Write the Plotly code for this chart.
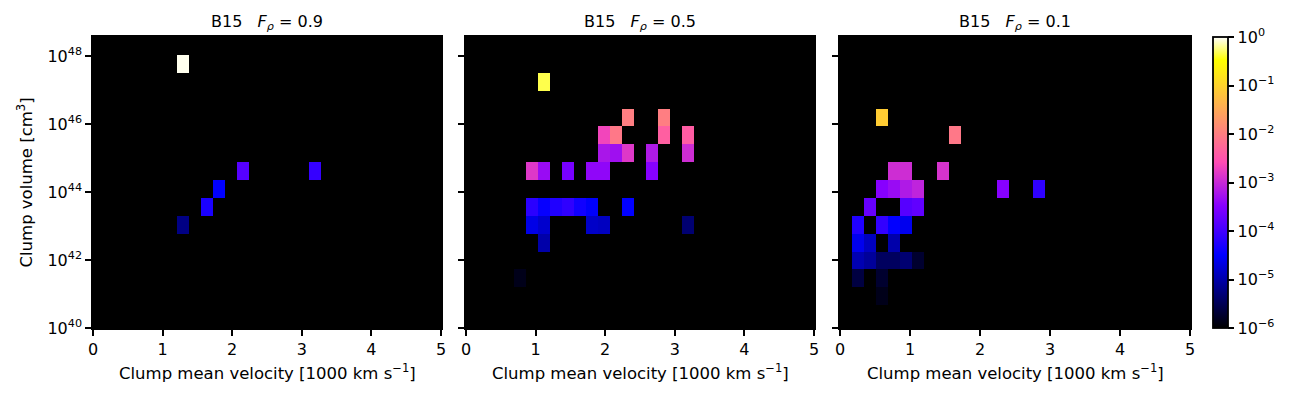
import numpy as np
import plotly.graph_objects as go

# histogram grid: 29 velocity bins over 0-5, 17 log-volume bins
vel_edges = np.linspace(0, 5, 30)
logvol_edges = np.linspace(39.62, 48.56, 18)

# panel 1: F_rho = 0.9  (velocity [1000 km/s], log10 volume [cm^3], fraction)
vel_09 = [1.29, 2.16, 3.19, 1.81, 1.64, 1.29]
logvol_09 = [47.77, 44.61, 44.61, 44.09, 43.56, 43.04]
frac_09 = [0.93, 1.4e-4, 8e-5, 3.2e-5, 5e-5, 6e-6]

# panel 2: F_rho = 0.5
vel_05 = [1.12,
          2.33, 2.84,
          1.98, 2.16, 2.84, 3.19,
          1.98, 2.16, 2.33, 2.67, 3.19,
          0.95, 1.12, 1.47, 1.81, 1.98, 2.67,
          0.95, 1.12, 1.29, 1.47, 1.64, 1.81, 2.33,
          0.95, 1.12, 1.81, 1.98, 3.19,
          1.12,
          0.78]
logvol_05 = [47.24,
             46.19, 46.19,
             45.67, 45.67, 45.67, 45.67,
             45.14, 45.14, 45.14, 45.14, 45.14,
             44.61, 44.61, 44.61, 44.61, 44.61, 44.61,
             43.56, 43.56, 43.56, 43.56, 43.56, 43.56, 43.56,
             43.04, 43.04, 43.04, 43.04, 43.04,
             42.51,
             41.46]
frac_05 = [0.46,
           1.0e-2, 1.0e-2,
           2.1e-3, 8.5e-3, 4.3e-3, 4.0e-3,
           6.0e-4, 5.0e-4, 1.5e-3, 6.6e-4, 1.1e-3,
           1.5e-3, 4.5e-4, 2.5e-4, 3.9e-4, 3.9e-4, 3.3e-4,
           6.6e-5, 3.5e-5, 5.5e-5, 7.2e-5, 4.2e-5, 3.0e-5, 3.2e-5,
           2.3e-5, 1.6e-5, 1.5e-5, 1.35e-5, 4.6e-6,
           9.8e-6,
           1.4e-6]

# panel 3: F_rho = 0.1
vel_01 = [0.60,
          1.64,
          0.78, 0.95, 1.47,
          0.60, 0.78, 0.95, 1.12, 2.33, 2.84,
          0.43, 0.95, 1.12,
          0.26, 0.60, 0.78, 0.95,
          0.26, 0.43, 0.78,
          0.26, 0.43, 0.60, 0.78, 0.95, 1.12,
          0.26, 0.60,
          0.60]
logvol_01 = [46.19,
             45.67,
             44.61, 44.61, 44.61,
             44.09, 44.09, 44.09, 44.09, 44.09, 44.09,
             43.56, 43.56, 43.56,
             43.04, 43.04, 43.04, 43.04,
             42.51, 42.51, 42.51,
             41.99, 41.99, 41.99, 41.99, 41.99, 41.99,
             41.46, 41.46,
             40.94]
frac_01 = [8.3e-2,
           8.5e-3,
           1.1e-3, 1.1e-3, 1.3e-3,
           3.3e-4, 4.5e-4, 6.6e-4, 8.7e-4, 3.3e-4, 7.2e-5,
           1.9e-4, 1.4e-4, 1.7e-4,
           5.5e-5, 7.6e-5, 3.2e-5, 2.5e-5,
           2.5e-5, 1.35e-5, 1.0e-5,
           1.1e-5, 8.0e-6, 3.6e-6, 3.6e-6, 4.6e-6, 1.9e-6,
           2.4e-6, 1.9e-6,
           1.4e-6]

panels = [
    ("0.9", vel_09, logvol_09, frac_09),
    ("0.5", vel_05, logvol_05, frac_05),
    ("0.1", vel_01, logvol_01, frac_01),
]

# matplotlib gnuplot2 (piecewise linear)
gnuplot2 = [
    [0.0, "rgb(0,0,0)"],
    [0.25, "rgb(0,0,255)"],
    [0.42, "rgb(135,0,255)"],
    [0.57, "rgb(255,77,179)"],
    [0.92, "rgb(255,255,0)"],
    [1.0, "rgb(255,255,255)"],
]

FONT = "DejaVu Sans"
FS = 16
W, H = 1300, 400
OFF = 8  # page body margin in the browser
x_px = [(93, 441), (466, 814), (840, 1190)]
y_px = (37, 328)


def fx(px):
    return (px - OFF) / W


def fy(px):
    return 1 - (px - OFF) / H


ydom = [fy(y_px[1]), fy(y_px[0])]

fig = go.Figure()

annotations = []
for k, (fr, vel, logv, frac) in enumerate(panels):
    hist, _, _ = np.histogram2d(vel, logv, bins=[vel_edges, logvol_edges], weights=frac)
    z = hist.T
    z = np.where(z > 0, np.log10(np.where(z > 0, z, 1)), np.nan)
    n = "" if k == 0 else str(k + 1)
    fig.add_trace(go.Heatmap(
        x=vel_edges, y=logvol_edges, z=z,
        coloraxis="coloraxis",
        xaxis="x" + n, yaxis="y" + n,
        hoverongaps=False,
    ))
    common = dict(
        showline=True, linecolor="black", linewidth=1.5, mirror=True,
        ticks="outside", ticklen=6, tickwidth=1.8, tickcolor="black",
        showgrid=False, zeroline=False, automargin=False,
        tickfont=dict(family=FONT, size=FS, color="black"),
    )
    fig.update_layout(**{
        "xaxis" + n: dict(
            domain=[fx(x_px[k][0]), fx(x_px[k][1])],
            range=[0, 5], tickvals=[0, 1, 2, 3, 4, 5],
            anchor="y" + n, **common),
        "yaxis" + n: dict(
            domain=ydom, range=[40, 48.56],
            tickvals=[40, 42, 44, 46, 48],
            ticktext=["10<sup>%d</sup>" % v for v in [40, 42, 44, 46, 48]],
            showticklabels=(k == 0),
            anchor="x" + n, **common),
    })
    xc = fx((x_px[k][0] + x_px[k][1]) / 2)
    annotations.append(dict(
        text="B15\u00a0\u00a0\u00a0<i>F<sub>ρ</sub></i> = " + fr,
        x=xc, y=fy(22), xref="paper", yref="paper",
        xanchor="center", yanchor="middle", showarrow=False,
        font=dict(family=FONT, size=FS, color="black"),
    ))
    annotations.append(dict(
        text="Clump mean velocity [1000 km s<sup>−1</sup>]",
        x=xc, y=fy(372), xref="paper", yref="paper",
        xanchor="center", yanchor="middle", showarrow=False,
        font=dict(family=FONT, size=16.5, color="black"),
    ))

annotations.append(dict(
    text="Clump volume [cm<sup>3</sup>]",
    x=fx(25), y=fy((y_px[0] + y_px[1]) / 2), xref="paper", yref="paper",
    xanchor="center", yanchor="middle", textangle=-90, showarrow=False,
    font=dict(family=FONT, size=16.5, color="black"),
))

fig.update_layout(
    width=W, height=H,
    margin=dict(l=0, r=0, t=0, b=0),
    paper_bgcolor="white",
    plot_bgcolor="black",
    showlegend=False,
    annotations=annotations,
    coloraxis=dict(
        colorscale=gnuplot2, cmin=-6, cmax=0,
        colorbar=dict(
            x=fx(1213), xanchor="left", xpad=0,
            y=ydom[0], yanchor="bottom", ypad=0,
            len=ydom[1] - ydom[0], lenmode="fraction",
            thickness=15, thicknessmode="pixels",
            outlinecolor="black", outlinewidth=1.8,
            tickvals=[-6, -5, -4, -3, -2, -1, 0],
            ticktext=["10<sup>−6</sup>", "10<sup>−5</sup>", "10<sup>−4</sup>",
                      "10<sup>−3</sup>", "10<sup>−2</sup>", "10<sup>−1</sup>",
                      "10<sup>0</sup>"],
            ticks="outside", ticklen=6, tickwidth=1.8, tickcolor="black",
            tickfont=dict(family=FONT, size=FS, color="black"),
        ),
    ),
)

fig.write_html("out.html")
